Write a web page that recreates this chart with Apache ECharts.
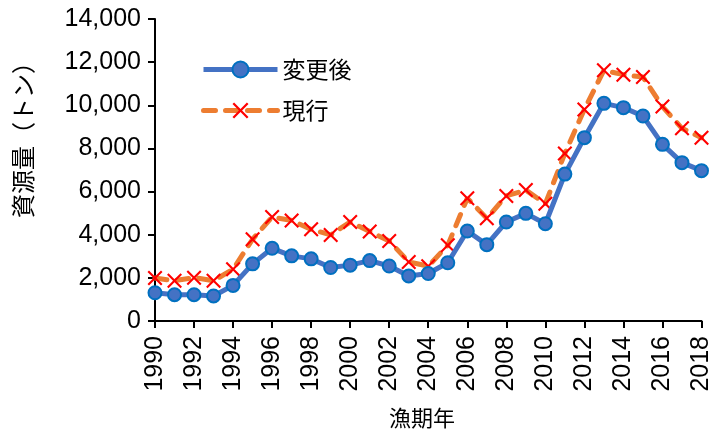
<!DOCTYPE html>
<html><head><meta charset="utf-8">
<script src="https://cdn.jsdelivr.net/npm/echarts@6/dist/echarts.min.js"></script>
<style>html,body{margin:0;padding:0;background:#fff}#c{width:714px;height:436px}</style>
</head><body><div id="c"></div>
<script>
const years = ['1990','1991','1992','1993','1994','1995','1996','1997','1998','1999','2000','2001','2002','2003','2004','2005','2006','2007','2008','2009','2010','2011','2012','2013','2014','2015','2016','2017','2018'];
const changed = [1310,1220,1220,1160,1650,2650,3370,3020,2880,2480,2590,2800,2550,2090,2200,2700,4170,3540,4590,4990,4510,6810,8500,10090,9890,9500,8190,7340,6970];
const current = [1990,1870,2010,1870,2400,3790,4820,4660,4250,3990,4590,4150,3710,2740,2540,3510,5690,4760,5800,6070,5440,7770,9810,11620,11420,11310,9940,8930,8500];
const seriesNames = ['変更後','現行'];
const yTicks = {min:0, max:14000, interval:2000};

const font = "'Liberation Sans', Arial, 'Noto Sans CJK JP', sans-serif";
const xPath = 'path://M0,1L1,0L5,4L9,0L10,1L6,5L10,9L9,10L5,6L1,10L0,9L4,5Z';
const chart = echarts.init(document.getElementById('c'));
chart.setOption({
  animation:false,
  backgroundColor:'#fff',
  grid:{left:155,right:10,top:19,bottom:115,containLabel:false},
  legend:{
    left:196, top:53, orient:'vertical', itemWidth:74, itemHeight:20, itemGap:18,
    lineStyle:{width:5},
    textStyle:{fontFamily:"'Noto Sans CJK JP', sans-serif", fontSize:23, color:'#000', padding:[0,0,0,0]},
    data:[
      {name:seriesNames[0]},
      {name:seriesNames[1]}
    ]
  },
  xAxis:{
    type:'category', data:years, boundaryGap:false,
    axisLine:{lineStyle:{color:'#000',width:2}},
    axisTick:{show:true, interval:1, length:7, lineStyle:{color:'#000',width:2}},
    axisLabel:{interval:1, rotate:90, margin:15, fontFamily:font, fontSize:25, color:'#000'}
  },
  yAxis:{
    type:'value', min:yTicks.min, max:yTicks.max, interval:yTicks.interval,
    splitLine:{show:false},
    axisLine:{show:true, lineStyle:{color:'#000',width:2}},
    axisTick:{show:true, length:7, lineStyle:{color:'#000',width:2}},
    axisLabel:{margin:14, fontFamily:font, fontSize:25, color:'#000',
      formatter:v=>v.toLocaleString('en-US')}
  },
  graphic:[
    {type:'text', left:11, top:50, rotation:Math.PI/2, origin:[0,0],
      style:{text:'資源量（トン）', font:"24px 'Noto Sans CJK JP', sans-serif", fill:'#000'}},
    {type:'text', left:389, top:407,
      style:{text:'漁期年', font:"22px 'Noto Sans CJK JP', sans-serif", fill:'#000'}}
  ],
  series:[
    {name:seriesNames[0], type:'line', data:changed, z:3, showAllSymbol:true,
      lineStyle:{color:'#4472C4', width:5},
      symbol:'circle', symbolSize:13,
      itemStyle:{color:'#4472C4', borderColor:'#0070C0', borderWidth:2}},
    {name:seriesNames[1], type:'line', data:current, z:2, showAllSymbol:true,
      lineStyle:{color:'#ED7D31', width:5, type:[12,10], cap:'round'},
      symbol:xPath, symbolSize:15,
      itemStyle:{color:'#FF0000'}}
  ]
});
</script></body></html>
